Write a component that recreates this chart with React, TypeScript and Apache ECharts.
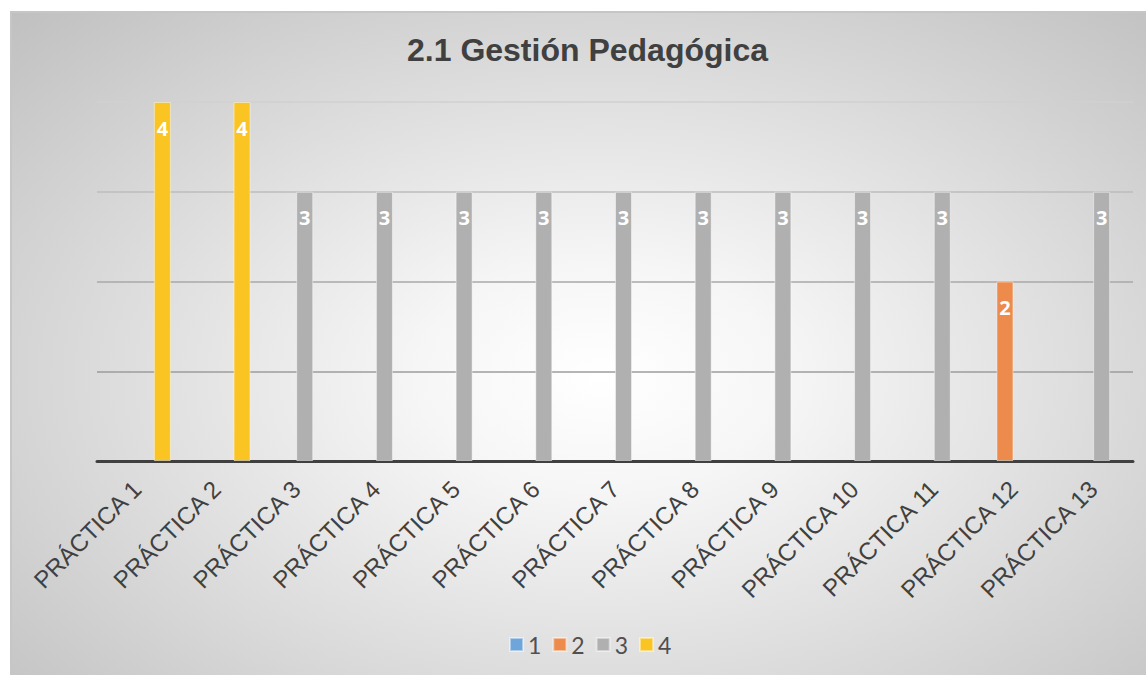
import React, { useEffect, useRef } from "react";
import * as echarts from "echarts";

const categories = [
  "PRÁCTICA 1", "PRÁCTICA 2", "PRÁCTICA 3", "PRÁCTICA 4", "PRÁCTICA 5",
  "PRÁCTICA 6", "PRÁCTICA 7", "PRÁCTICA 8", "PRÁCTICA 9", "PRÁCTICA 10",
  "PRÁCTICA 11", "PRÁCTICA 12", "PRÁCTICA 13",
];
const seriesNames = ["1", "2", "3", "4"];
const values1: (number | null)[] = [null, null, null, null, null, null, null, null, null, null, null, null, null];
const values2: (number | null)[] = [null, null, null, null, null, null, null, null, null, null, null, 2, null];
const values3: (number | null)[] = [null, null, 3, 3, 3, 3, 3, 3, 3, 3, 3, null, 3];
const values4: (number | null)[] = [4, 4, null, null, null, null, null, null, null, null, null, null, null];
const colors = ["#6fa6da", "#ec8b4b", "#b0b0b0", "#fac423"];
const title = "2.1 Gestión Pedagógica";

export default function App() {
  const ref = useRef<HTMLDivElement>(null);
  useEffect(() => {
    if (!ref.current) return;
    const chart = echarts.init(ref.current, undefined, { renderer: "svg" });
    const allValues = [values1, values2, values3, values4];
    chart.setOption({
      animation: false,
      title: {
        text: title,
        left: 395,
        top: 21,
        padding: 0,
        textStyle: {
          fontFamily: "Liberation Sans",
          fontSize: 32,
          fontWeight: "bold",
          color: "#404040",
        },
      },
      legend: {
        left: 497,
        top: 620,
        padding: 0,
        icon: "rect",
        itemWidth: 13,
        itemHeight: 13,
        itemGap: 11,
        textStyle: { fontFamily: "Lato", fontSize: 23, color: "#505050" },
        data: seriesNames,
      },
      grid: { left: 85, right: 13, top: 89, bottom: 214, containLabel: false },
      xAxis: {
        type: "category",
        data: categories,
        axisLine: { lineStyle: { color: "#404040", width: 3 } },
        axisTick: { show: false },
        axisLabel: {
          rotate: 45,
          interval: 0,
          margin: 24,
          fontFamily: "Liberation Sans",
          fontSize: 24,
          color: "#404040",
        },
      },
      yAxis: {
        type: "value",
        min: 0,
        max: 4,
        interval: 1,
        axisLabel: { show: false },
        axisLine: { show: false },
        axisTick: { show: false },
        splitLine: {
          lineStyle: {
            color: ["#999999", "#9c9c9c", "#a8a8a8", "#bcbcbc", "#d0d0d0"],
            width: 1.5,
          },
        },
      },
      series: seriesNames.map((name, i) => ({
        name,
        type: "bar",
        data: allValues[i],
        barWidth: 17,
        barGap: "0%",
        itemStyle: {
          color: colors[i],
          borderColor: "rgba(255,255,255,0.45)",
          borderWidth: 1,
        },
        label: {
          show: true,
          position: "insideTop",
          distance: 16,
          fontFamily: "Open Sans",
          fontWeight: "bold",
          fontSize: 20,
          color: "#ffffff",
        },
      })),
    });
    return () => chart.dispose();
  }, []);
  return (
    <div
      ref={ref}
      style={{
        position: "absolute",
        left: 10,
        top: 11,
        width: 1136,
        height: 664,
        boxSizing: "border-box",
        borderTop: "2px solid #c6c6c6",
        borderLeft: "2px solid #c6c6c6",
        background:
          "radial-gradient(ellipse farthest-corner at 52% 55%, #ffffff 0%, #f6f6f6 22%, #c0c0c0 100%)",
      }}
    />
  );
}
